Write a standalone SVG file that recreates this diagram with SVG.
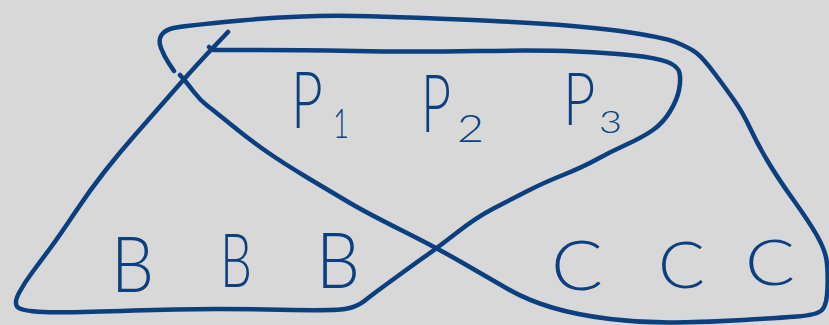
<svg xmlns="http://www.w3.org/2000/svg" width="829" height="325" viewBox="0 0 829 325">
<style>
.ln{fill:none;stroke:#0b3f7f;stroke-width:4.5;stroke-linecap:round;stroke-linejoin:round}
.t{fill:#0b3f7f;font-family:Lato,"Liberation Sans",sans-serif;font-weight:300}
</style>
<rect width="829" height="325" fill="#d8d8d8"/>
<g id="connectors">
<path id="loop-outer" class="ln" d="M174,71 L169,63.5 Q164,56 161,48 Q158,40 161.5,35 Q165,30 173.5,28 Q182,26 241,20.5 Q300,15 355,16 Q410,17 493.5,21 Q577,25 620,31 Q663,37 676.5,42.5 Q690,48 696.5,53 Q703,58 715,74 Q727,90 735,101.5 Q743,113 750,128 Q757,143 767,160 Q777,177 793.5,200 Q810,223 817.5,236.5 Q825,250 826.5,260 Q828,270 827.5,287.5 Q827,305 822,310 Q817,315 797,316.5 Q777,318 743.5,320 Q710,322 676.5,322.5 Q643,323 610,319 Q577,315 552,307.5 Q527,300 507,288.5 Q487,277 462,262.5 Q437,248 402,230.5 Q367,213 350,203 Q333,193 308,178 Q283,163 266.5,151.5 Q250,140 231.5,125 Q213,110 206.5,105 Q200,100 193.5,91.5 Q187,83 183.5,79 L180,75"/>
<path id="loop-inner" class="ln" d="M228,32 L217,43.5 Q206,55 195.5,66.5 Q185,78 167.5,98 Q150,118 135,135 Q120,152 105,171 Q90,190 75,212.5 Q60,235 50,248.5 Q40,262 32.5,272 Q25,282 19.5,292 Q14,302 17,306.5 Q20,311 43.5,312 Q67,313 133.5,310.5 Q200,308 266.5,309.5 Q333,311 345,309 Q357,307 365,300.5 Q373,294 396.5,277 Q420,260 428.5,254 Q437,248 457,232.5 Q477,217 493.5,208.5 Q510,200 526.5,191.5 Q543,183 563,175 Q583,167 596.5,159.5 Q610,152 626.5,144.5 Q643,137 653,130 Q663,123 670,111.5 Q677,100 679,90 Q681,80 679.5,73 Q678,66 667.5,62 Q657,58 633.5,55.5 Q610,53 576.5,51.5 Q543,50 476.5,51 Q410,52 355,51 Q300,50 256.5,50 L213,50 L209,47"/>
</g>
<g id="p1"><text class="t" font-size="55" transform="translate(291,128) scale(1,1.45)">P</text><text class="t" x="333" y="138" font-size="42" textLength="16" lengthAdjust="spacingAndGlyphs">1</text></g>
<g id="p2"><text class="t" font-size="52" transform="translate(421,132) scale(1,1.55)">P</text><text class="t" x="457" y="142" font-size="38" textLength="27" lengthAdjust="spacingAndGlyphs">2</text></g>
<g id="p3"><text class="t" font-size="56" transform="translate(563,125) scale(1,1.31)">P</text><text class="t" x="599" y="133" font-size="32" textLength="23" lengthAdjust="spacingAndGlyphs">3</text></g>
<g id="b1"><text class="t" x="111" y="292" font-size="77" textLength="43" lengthAdjust="spacingAndGlyphs">B</text></g>
<g id="b2"><text class="t" x="220" y="287" font-size="75" textLength="32" lengthAdjust="spacingAndGlyphs">B</text></g>
<g id="b3"><text class="t" x="316" y="288" font-size="77" textLength="44" lengthAdjust="spacingAndGlyphs">B</text></g>
<g id="c1"><text class="t" x="551" y="290" font-size="68" textLength="52" lengthAdjust="spacingAndGlyphs">C</text></g>
<g id="c2"><text class="t" x="658" y="288" font-size="66" textLength="47" lengthAdjust="spacingAndGlyphs">C</text></g>
<g id="c3"><text class="t" x="745" y="285" font-size="64" textLength="50" lengthAdjust="spacingAndGlyphs">C</text></g>
</svg>
